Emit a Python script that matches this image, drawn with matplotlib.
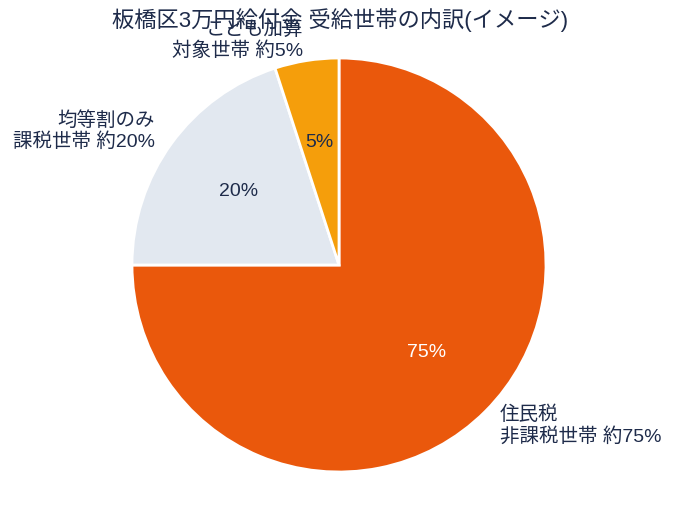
import matplotlib.pyplot as plt

plt.rcParams['font.family'] = ['Liberation Sans', 'Noto Sans CJK JP', 'DejaVu Sans']

labels = ['住民税\n非課税世帯 約75%', '均等割のみ\n課税世帯 約20%', 'こども加算\n対象世帯 約5%']
shares = [75, 20, 5]
colors = ['#EA580C', '#E2E8F0', '#F59E0B']
pct_colors = ['white', '#1e2b4a', '#1e2b4a']
title = '板橋区3万円給付金 受給世帯の内訳(イメージ)'

text_color = '#1e2b4a'

fig = plt.figure(figsize=(6.73, 5.08), dpi=100)
ax = fig.add_axes([0, 0, 1, 1])

wedges, texts, autotexts = ax.pie(
    shares, labels=labels, colors=colors, startangle=90, counterclock=False,
    autopct='%d%%', pctdistance=0.6, labeldistance=1.1,
    wedgeprops=dict(edgecolor='white', linewidth=2),
    textprops=dict(fontsize=14, color=text_color))
for t, c in zip(autotexts, pct_colors):
    t.set_color(c)

# place pie: radius ~207 px, centre at (339, 265) from top-left
r = 207.0
ax.set_aspect('auto')
ax.set_xlim(-339 / r, (673 - 339) / r)
ax.set_ylim(-(508 - 265) / r, 265 / r)
ax.axis('off')

fig.text(0.505, 1 - 20 / 508, title, ha='center', va='center',
         fontsize=16, color=text_color)

fig.savefig('out.png', dpi=100)
